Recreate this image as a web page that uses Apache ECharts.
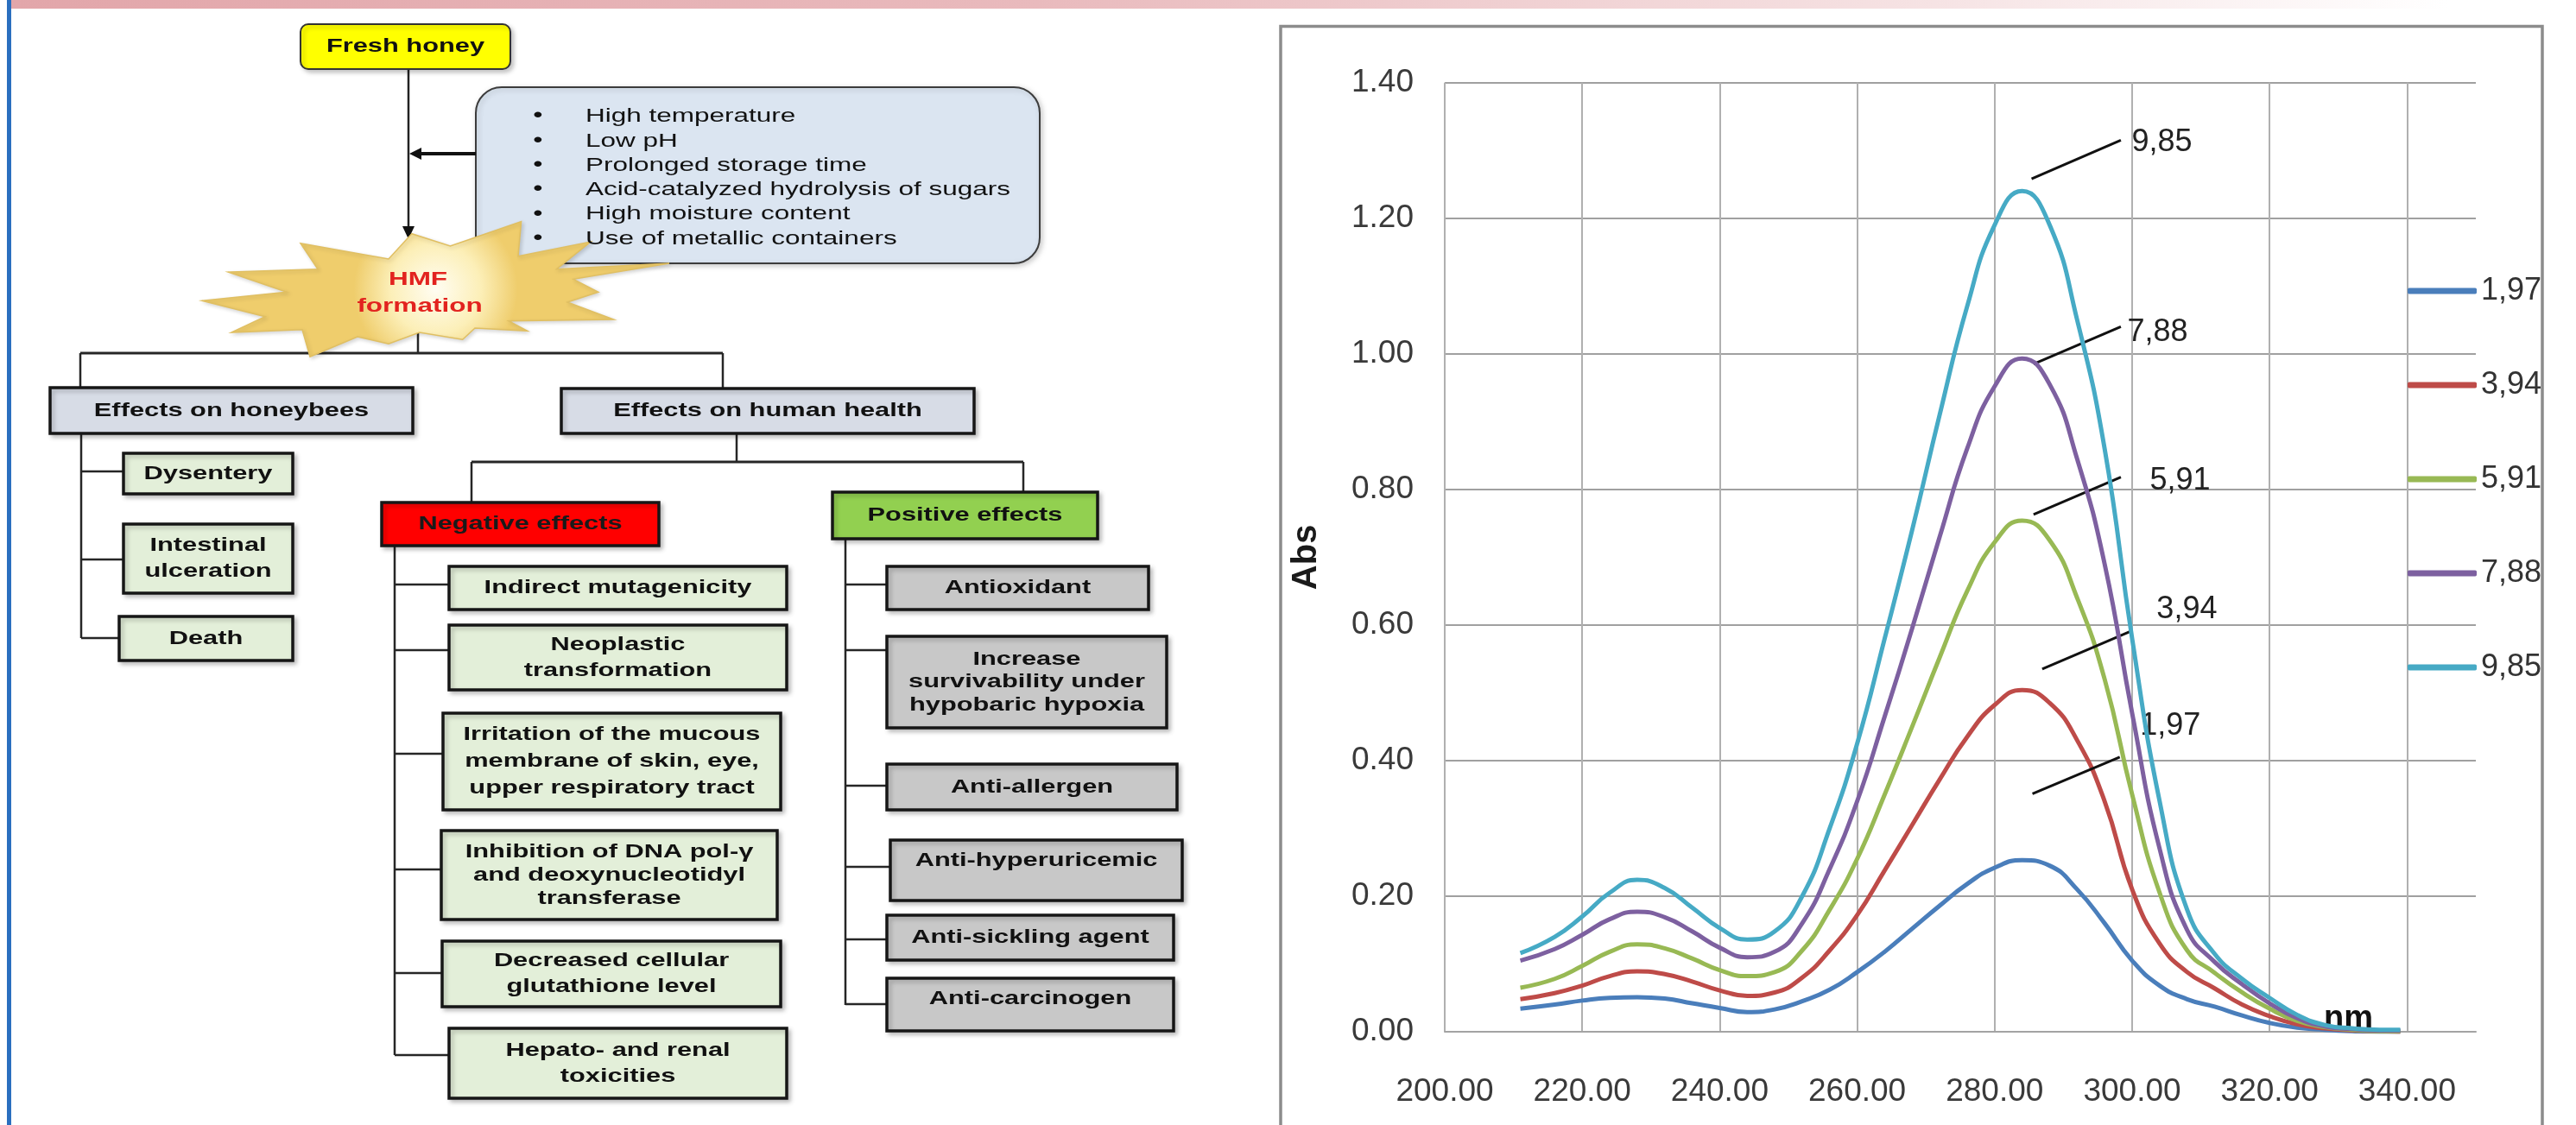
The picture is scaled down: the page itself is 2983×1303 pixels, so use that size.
<!DOCTYPE html>
<html>
<head>
<meta charset="utf-8">
<script src="https://cdn.jsdelivr.net/npm/echarts@6/dist/echarts.min.js"></script>
<style>html,body{margin:0;padding:0;background:#fff;}#c{width:2983px;height:1303px;}</style>
</head>
<body>
<div id="c"></div>
<script>
// ---------------- spectrum data ----------------
const wavelengths = [211,216,220,224,228,232,236,240,244,248,252,256,260,264,268,272,276,280,284,288,292,296,300,304,308,312,316,320,324,328,332,336,339];
const seriesNames = ['1,97','3,94','5,91','7,88','9,85'];
const abs197 = [0.034,0.040,0.046,0.050,0.051,0.049,0.042,0.035,0.029,0.033,0.045,0.062,0.088,0.118,0.152,0.186,0.218,0.242,0.253,0.245,0.210,0.160,0.105,0.068,0.048,0.037,0.024,0.013,0.006,0.003,0.001,0.000,0.000];
const abs394 = [0.048,0.057,0.068,0.082,0.089,0.085,0.074,0.061,0.053,0.058,0.080,0.120,0.172,0.238,0.305,0.372,0.435,0.482,0.504,0.485,0.430,0.340,0.210,0.130,0.088,0.064,0.040,0.023,0.011,0.005,0.002,0.001,0.000];
const abs591 = [0.065,0.078,0.097,0.118,0.129,0.123,0.108,0.091,0.082,0.088,0.120,0.180,0.255,0.350,0.450,0.552,0.650,0.722,0.754,0.725,0.640,0.520,0.350,0.205,0.120,0.087,0.058,0.034,0.016,0.007,0.003,0.001,0.001];
const abs788 = [0.105,0.122,0.143,0.166,0.177,0.169,0.148,0.124,0.110,0.118,0.160,0.240,0.340,0.465,0.595,0.730,0.860,0.952,0.993,0.955,0.845,0.690,0.470,0.270,0.150,0.103,0.070,0.042,0.020,0.008,0.004,0.002,0.002];
const abs985 = [0.116,0.140,0.170,0.205,0.224,0.212,0.183,0.153,0.136,0.148,0.200,0.300,0.425,0.580,0.740,0.910,1.070,1.190,1.240,1.190,1.050,0.860,0.580,0.340,0.180,0.115,0.078,0.050,0.025,0.010,0.005,0.003,0.003];
const absSeries = [abs197, abs394, abs591, abs788, abs985];
const xAxisName = 'nm';
const yAxisName = 'Abs';
// callout leader lines [x1,y1,x2,y2] and label anchors [x,y] in data units
const calloutLines = [[285.5,0.351,298.2,0.405],[286.92,0.535,299.87,0.591],[285.66,0.763,298.36,0.818],[285.66,0.985,298.36,1.040],[285.37,1.258,298.36,1.315]];
const calloutAnchors = [[301.1,0.451],[303.5,0.623],[302.52,0.813],[299.25,1.031],[299.87,1.312]];

// ---------------- flowchart texts ----------------
const rootText = 'Fresh honey';
const factorTexts = ['High temperature','Low pH','Prolonged storage time','Acid-catalyzed hydrolysis of sugars','High moisture content','Use of metallic containers'];
const groupTexts = ['Effects on honeybees','Effects on human health'];
const honeybeeTexts = ['Dysentery','Intestinal\nulceration','Death'];
const healthTexts = ['Negative effects','Positive effects'];
const negativeTexts = ['Indirect mutagenicity','Neoplastic\ntransformation','Irritation of the mucous\nmembrane of skin, eye,\nupper respiratory tract','Inhibition of DNA pol-\u03b3\nand deoxynucleotidyl\ntransferase','Decreased cellular\nglutathione level','Hepato- and renal\ntoxicities'];
const positiveTexts = ['Antioxidant','Increase\nsurvivability under\nhypobaric hypoxia','Anti-allergen','Anti-hyperuricemic','Anti-sickling agent','Anti-carcinogen'];

// ---------------- layout (pixels) ----------------
const honeyBoxes = [[143,525,339,572],[143,607,339,687],[138,714,339,765]];
const honeyBranch = [546,648,739];
const negBoxes = [[520,656,911,706],[520,724,911,799],[513,826,904,938],[511,962,900,1065],[512,1090,904,1166],[520,1191,911,1272]];
const negBranch = [677,753,873,1007,1127,1222];
const posBoxes = [[1027,656,1330,706],[1027,737,1351,843],[1027,885,1363,938],[1031,973,1369,1043],[1027,1060,1359,1112],[1027,1133,1359,1194]];
const posBranch = [677,753,910,1004,1088,1163];
const posTextY = [null,null,null,997,null,1157];
const starPoints = [[476.8,270.7],[450,300],[348,281.7],[367.9,311.7],[264.3,315],[332,338.3],[234,348.3],[307,366.7],[267.9,385],[350,381.7],[359,413.3],[414,390],[450,398.3],[485.7,385],[535.7,393.3],[550,380],[610.7,383.3],[589,371.7],[710.7,370],[657,350],[692.9,338.3],[664,323.3],[775,305],[644.6,311.7],[684,280],[600,296.7],[603.6,256.7],[521.4,285]];

const FONT = '"Liberation Sans", Arial, sans-serif';
const SX = 1.4;
const colors = ['#4a7ebb','#be4b48','#98b954','#7d60a0','#46aac5'];

const g = [];
function txt(x, y, text, o) {
  o = o || {};
  g.push({type:'text', x:x, y:y, scaleX:SX, z:o.z||20, silent:true,
    style:{text:text, fill:o.color||'#111', fontSize:o.size||22, fontWeight:o.bold===false?'normal':'bold',
      fontFamily:FONT, align:o.align||'center', verticalAlign:'middle', lineHeight:o.lh||29}});
}
function ln(x1,y1,x2,y2,w,c,z){ g.push({type:'line', silent:true, z:z||5, shape:{x1:x1,y1:y1,x2:x2,y2:y2}, style:{stroke:c||'#262626', lineWidth:w||2.5}}); }
function box(b, fill, text, o) {
  o = o || {};
  g.push({type:'rect', silent:true, z:10, shape:{x:b[0], y:b[1], width:b[2]-b[0], height:b[3]-b[1], r:o.r||0},
    style:{fill:fill, stroke:o.stroke||'#161616', lineWidth:o.lw||3.5, shadowBlur:5, shadowOffsetX:3, shadowOffsetY:3, shadowColor:'rgba(0,0,0,0.22)'}});
  txt((b[0]+b[2])/2, o.ty!=null?o.ty:(b[1]+b[3])/2, text, {color:o.color, lh:o.lh});
}

// page decorations
g.push({type:'rect', silent:true, z:1, shape:{x:13,y:0,width:2970,height:10},
  style:{fill:{type:'linear',x:0,y:0,x2:1,y2:0,colorStops:[{offset:0,color:'#e2a6aa'},{offset:0.4,color:'#e9babd'},{offset:0.75,color:'#f6e3e4'},{offset:0.95,color:'#ffffff'}]}}});
g.push({type:'rect', silent:true, z:1, shape:{x:8,y:0,width:5,height:1303}, style:{fill:'#2a6fbf'}});
// chart frame
g.push({type:'rect', silent:true, z:0, shape:{x:1483,y:30.5,width:1461,height:1300}, style:{fill:'none', stroke:'#8c8c8c', lineWidth:3.5}});

// root
box([348,28,591,80], '#ffff00', rootText, {r:9, lw:2, stroke:'#333'});
ln(473,80,473,264,2.5,'#222');
g.push({type:'polygon', silent:true, z:6, shape:{points:[[466,262],[480,262],[473,277]]}, style:{fill:'#111'}});
// factors box
g.push({type:'rect', silent:true, z:8, shape:{x:551,y:101,width:653,height:204,r:30},
  style:{fill:'#dbe5f1', stroke:'#3c3c3c', lineWidth:2, shadowBlur:6, shadowOffsetX:2, shadowOffsetY:2, shadowColor:'rgba(0,0,0,0.2)'}});
ln(551,178,482,178,4,'#111',9);
g.push({type:'polygon', silent:true, z:9, shape:{points:[[474,178],[488,171],[488,185]]}, style:{fill:'#111'}});
factorTexts.forEach(function(t,i){
  const y = 135 + i*28.3;
  txt(623, y, '\u2022', {bold:false, size:23, align:'center', z:21});
  txt(678, y, t, {bold:false, size:22.5, align:'left', z:21});
});
// starburst
g.push({type:'polygon', silent:true, z:15, shape:{points:starPoints},
  style:{fill:{type:'radial',x:0.5,y:0.5,r:0.6,colorStops:[{offset:0,color:'#fffdf2'},{offset:0.55,color:'#fcefb8'},{offset:1,color:'#efcd6c'}]}, stroke:'#e0bf62', lineWidth:1.5,
  shadowBlur:4, shadowOffsetX:2, shadowOffsetY:2, shadowColor:'rgba(0,0,0,0.15)'}});
txt(484, 324, 'HMF', {color:'#e2231f', size:22.5, z:22});
txt(486, 355, 'formation', {color:'#e2231f', size:22.5, z:22});
// first split
ln(484,383,484,409,2.5);
ln(93,409,837,409,3);
ln(93,409,93,449,2.5);
ln(837,409,837,450,2.5);
box([58,449,478,502], '#d7dce6', groupTexts[0]);
box([650,450,1128,502], '#d7dce6', groupTexts[1]);
// honeybees
ln(94,502,94,739,2.5);
honeyBoxes.forEach(function(b,i){ ln(94,honeyBranch[i],b[0],honeyBranch[i],2.5); box(b,'#e3efd9',honeybeeTexts[i],{lh:30}); });
// human health
ln(853,502,853,535,2.5);
ln(546,535,1185,535,3);
ln(546,535,546,582,2.5);
ln(1185,535,1185,570,2.5);
box([442,582,763,632], '#ff0000', healthTexts[0], {color:'#1a1a1a'});
box([964,570,1271,624], '#92d050', healthTexts[1]);
ln(457,632,457,1222,2.5);
negBoxes.forEach(function(b,i){ ln(457,negBranch[i],b[0],negBranch[i],2.5); box(b,'#e3efd9',negativeTexts[i],{lh: i===3?27:(i===2?31:30)}); });
ln(979,624,979,1164,2.5);
posBoxes.forEach(function(b,i){ ln(979,posBranch[i],b[0],posBranch[i],2.5); box(b,'#c8c8c8',positiveTexts[i],{lh:26.5, ty:posTextY[i]}); });

// ---------------- chart ----------------
const series = seriesNames.map(function(n,i){
  const c = calloutLines[i];
  return {
    name:n, type:'line', smooth:true, showSymbol:false, symbol:'none', z:2+i,
    data: wavelengths.map(function(w,j){ return [w, absSeries[i][j]]; }),
    lineStyle:{width:5, color:colors[i]}, itemStyle:{color:colors[i]},
    emphasis:{disabled:true},
    markLine:{silent:true, symbol:['none','none'], label:{show:false}, emphasis:{disabled:true},
      lineStyle:{color:'#111', width:3, type:'solid'},
      data:[[{coord:[c[0],c[1]]},{coord:[c[2],c[3]]}]]},
    markPoint:{silent:true, symbol:'circle', symbolSize:1, itemStyle:{color:'rgba(0,0,0,0)'},
      label:{show:true, position:'right', distance:0, formatter:n, fontFamily:FONT, fontSize:36, color:'#222'},
      data:[{coord:calloutAnchors[i]}]}
  };
});

const chart = echarts.init(document.getElementById('c'), null, {renderer:'canvas'});
chart.setOption({
  animation:false,
  backgroundColor:'#ffffff',
  graphic:{elements:g},
  grid:{left:1673, right:116, top:95.7, bottom:108},
  legend:{orient:'vertical', left:2783, top:307, itemWidth:80, itemHeight:7, itemGap:59, icon:'roundRect', selectedMode:false,
    data:seriesNames, textStyle:{fontFamily:FONT, fontSize:36, color:'#333', lineHeight:50}},
  xAxis:{type:'value', min:200, max:350, interval:20,
    name:xAxisName, nameLocation:'end', nameGap:-176,
    nameTextStyle:{fontFamily:FONT, fontWeight:'bold', fontSize:38, color:'#111', verticalAlign:'bottom', align:'left', lineHeight:28},
    axisLine:{show:true, lineStyle:{color:'#a3a3a3', width:2}}, axisTick:{show:false},
    axisLabel:{formatter:function(v){return v.toFixed(2);}, fontFamily:FONT, fontSize:37, color:'#3a3a3a', margin:70, verticalAlign:'middle', showMaxLabel:false},
    splitLine:{show:true, showMaxLine:false, lineStyle:{color:'#b0b0b0', width:2}}},
  yAxis:{type:'value', min:0, max:1.4, interval:0.2,
    name:yAxisName, nameLocation:'middle', nameGap:140,
    nameTextStyle:{fontFamily:FONT, fontWeight:'bold', fontSize:40, color:'#1a1a1a'},
    axisLine:{show:false}, axisTick:{show:false},
    axisLabel:{formatter:function(v){return v.toFixed(2);}, fontFamily:FONT, fontSize:37, color:'#3a3a3a', margin:36},
    splitLine:{lineStyle:{color:'#a0a0a0', width:2}}},
  series:series
});
</script>
</body>
</html>
